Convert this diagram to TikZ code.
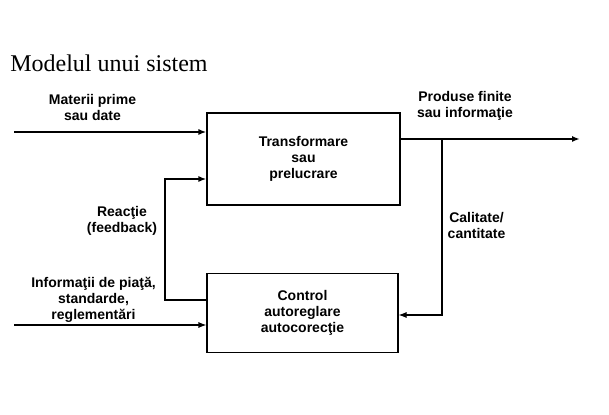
\documentclass[tikz,border=0pt]{standalone}
\usepackage{fontspec}
\setmainfont{Liberation Sans}
\newfontfamily\titlefont{Liberation Serif}
\usetikzlibrary{positioning}
\usetikzlibrary{calc}
\usetikzlibrary{arrows.meta}

\begin{document}
\begin{tikzpicture}[
    x=0.75pt, y=0.75pt,
    >={Latex[length=6pt,width=4.5pt]},
    % node styles
    block/.style = {
      draw,
      line width=0.8pt,
      align=center,
      font=\bfseries\fontsize{10.5}{12}\selectfont
    },
    lbl/.style = {
      align=center,
      inner sep=0pt,
      font=\bfseries\fontsize{10.5}{12}\selectfont
    },
    % arrow styles
    thickarr/.style = {->, line width=1.5pt},
    thinarr/.style = {->, line width=0.8pt},
    thinline/.style = {-, line width=0.8pt}
  ]
  \useasboundingbox (0,0) rectangle (609,414);

  % --- Title
  \node[anchor=base west, inner sep=0pt, font=\titlefont\fontsize{18}{20}\selectfont] (title) at (10,342) {Modelul unui sistem};

  % --- Blocks
  \node[block, minimum width=144.75pt, minimum height=69pt] (trans) at (303.5,255) {Transformare\\sau\\prelucrare};
  \node[block, minimum width=143.25pt, minimum height=59.25pt, below=50.25pt of trans, xshift=-0.75pt] (ctrl) {Control\\autoreglare\\autocorec\c{t}ie};

  % --- Labels
  \node[lbl] (matLbl) at (92.5,307) {Materii prime\\sau date};
  \node[lbl] (prodLbl) at (465,308.5) {Produse finite\\sau informa\c{t}ie};
  \node[lbl] (calLbl) at (476.5,189) {Calitate/\\cantitate};
  \node[lbl] (fbLbl) at (122,193) {Reac\c{t}ie\\(feedback)};
  \node[lbl] (infLbl) at (93.5,114.5) {Informa\c{t}ii de pia\c{t}\u{a},\\standarde,\\reglement\u{a}ri};

  % --- Free ends
  \coordinate (matIn) at (14,282);
  \coordinate (infIn) at (14,89);
  \coordinate (outSplit) at (442,275);
  \coordinate (outMid) at (538,275);
  \coordinate (outEnd) at (580,275);
  \coordinate (calDown) at (442,99);
  \coordinate (fbCorner) at (165,114);

  % --- Arrows
  \draw[thickarr] (matIn) -- (matIn -| trans.west);
  \draw[thinarr] (infIn) -- (infIn -| ctrl.west);
  \draw[thickarr] (ctrl.west |- fbCorner) -- (fbCorner) |- ($(trans.west)+(0,-20)$);
  \draw[thinline] (trans.east |- outSplit) -- (outSplit) -- (outMid);
  \draw[thickarr] (outMid) -- (outEnd);
  \draw[thinarr] (outSplit) -- (calDown) -- (calDown -| ctrl.east);
\end{tikzpicture}
\end{document}
